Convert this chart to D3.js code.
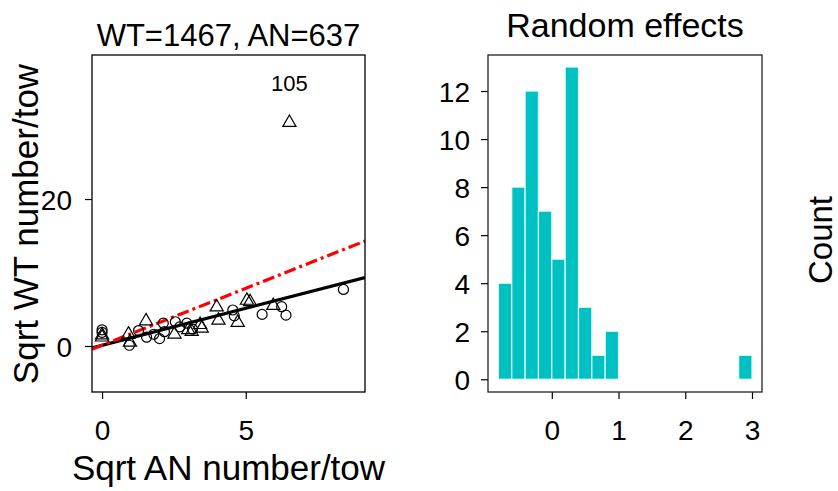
<!DOCTYPE html>
<html>
<head>
<meta charset="utf-8">
<script src="https://cdn.jsdelivr.net/npm/d3@7"></script>
<style>
  body { margin: 0; background: #fff; }
  text { font-family: "Liberation Sans", Arial, sans-serif; fill: #000; }
</style>
</head>
<body>
<svg id="chart" width="838" height="491"></svg>
<script>
// scatter: sqrt AN (x) vs sqrt WT (y), two groups of symbols
var circleX = [0, 0, 0.95, 1.27, 1.55, 1.8, 2.0, 2.17, 2.13, 2.55, 2.7, 2.95, 3.15, 4.55, 4.6, 5.57, 6.25, 6.4, 8.4];
var circleY = [2.2, 1.85, 0.1, 2.1, 1.2, 1.6, 1.0, 1.95, 3.1, 3.3, 2.6, 3.1, 2.3, 4.9, 4.1, 4.3, 5.35, 4.2, 7.7];
var triX = [0, 0, 0.92, 0.97, 1.53, 2.52, 3.0, 3.12, 3.41, 3.47, 3.99, 4.05, 4.72, 5.04, 5.15, 5.96, 6.52];
var triY = [1.5, 1.2, 1.6, 0.5, 3.4, 1.6, 2.2, 1.95, 2.9, 2.4, 5.3, 3.5, 3.2, 6.2, 6.0, 5.5, 30.4];
var outlierLabel = "105";
// fitted lines: intercept, slope
var fitBlack = [0.08, 1.01];
var fitRed = [0.1, 1.55];
var scatterXTicks = [0, 5];
var scatterYTicks = [0, 20];

// histogram of random effects
var binStart = [-0.8, -0.6, -0.4, -0.2, 0, 0.2, 0.4, 0.6, 0.8, 1.0, 1.2, 1.4, 1.6, 1.8, 2.0, 2.2, 2.4, 2.6, 2.8];
var binCount = [4, 8, 12, 7, 5, 13, 3, 1, 2, 0, 0, 0, 0, 0, 0, 0, 0, 0, 1];
var binWidth = 0.2;
var histXTicks = [0, 1, 2, 3];
var histYTicks = [0, 2, 4, 6, 8, 10, 12];

var svg = d3.select("#chart");

function styleAxis(a) {
  a.select(".domain").remove();
  a.selectAll("line").attr("stroke", "#000").attr("stroke-width", 1.2);
  a.selectAll("text").style("font-size", "28px").style("font-family", "Liberation Sans, Arial, sans-serif");
}

// ---------- left panel ----------
var left = {x0: 92, x1: 365, y0: 55, y1: 392};
var x = d3.scaleLinear().domain([-0.35, 9.15]).range([left.x0, left.x1]);
var y = d3.scaleLinear().domain([-6.26, 39.6]).range([left.y1, left.y0]);

var g1 = svg.append("g");
g1.append("defs").append("clipPath").attr("id", "clip1")
  .append("rect").attr("x", left.x0).attr("y", left.y0)
  .attr("width", left.x1 - left.x0).attr("height", left.y1 - left.y0);

var xAxis1 = g1.append("g")
  .attr("transform", "translate(0," + left.y1 + ")")
  .call(d3.axisBottom(x).tickValues(scatterXTicks).tickFormat(d3.format("d")).tickSize(7).tickPadding(21));
var yAxis1 = g1.append("g")
  .attr("transform", "translate(" + left.x0 + ",0)")
  .call(d3.axisLeft(y).tickValues(scatterYTicks).tickFormat(d3.format("d")).tickSize(7).tickPadding(13));
styleAxis(xAxis1);
styleAxis(yAxis1);
yAxis1.selectAll("text").attr("dy", "0.36em");

var plot1 = g1.append("g").attr("clip-path", "url(#clip1)");

[[fitBlack, "#000", null], [fitRed, "#ff0000", "12,4,3,4"]].forEach(function(f) {
  var d = x.domain();
  plot1.append("line")
    .attr("x1", x(d[0])).attr("y1", y(f[0][0] + f[0][1] * d[0]))
    .attr("x2", x(d[1])).attr("y2", y(f[0][0] + f[0][1] * d[1]))
    .attr("stroke", f[1]).attr("stroke-width", 3.2)
    .attr("stroke-dasharray", f[2]);
});

plot1.selectAll(".pt-c")
  .data(d3.range(circleX.length))
  .enter().append("circle")
  .attr("cx", function(i) { return x(circleX[i]); })
  .attr("cy", function(i) { return y(circleY[i]); })
  .attr("r", 5)
  .attr("fill", "none").attr("stroke", "#000").attr("stroke-width", 1.2);

var tri = d3.symbol().type(d3.symbolTriangle).size(75);
plot1.selectAll(".pt-t")
  .data(d3.range(triX.length))
  .enter().append("path")
  .attr("d", tri)
  .attr("transform", function(i) { return "translate(" + x(triX[i]) + "," + y(triY[i]) + ")"; })
  .attr("fill", "none").attr("stroke", "#000").attr("stroke-width", 1.2);

var last = triX.length - 1;
g1.append("text")
  .attr("x", x(triX[last])).attr("y", y(triY[last]) - 32)
  .attr("text-anchor", "middle").style("font-size", "22px")
  .text(outlierLabel);

g1.append("rect")
  .attr("x", left.x0).attr("y", left.y0)
  .attr("width", left.x1 - left.x0).attr("height", left.y1 - left.y0)
  .attr("fill", "none").attr("stroke", "#000").attr("stroke-width", 1.3);

g1.append("text")
  .attr("x", (left.x0 + left.x1) / 2).attr("y", 46)
  .attr("text-anchor", "middle").style("font-size", "31px")
  .text("WT=1467, AN=637");

g1.append("text")
  .attr("x", (left.x0 + left.x1) / 2).attr("y", 480)
  .attr("text-anchor", "middle").style("font-size", "35px")
  .text("Sqrt AN number/tow");

g1.append("text")
  .attr("transform", "translate(38,224) rotate(-90)")
  .attr("text-anchor", "middle").style("font-size", "35px")
  .text("Sqrt WT number/tow");

// ---------- right panel ----------
var right = {x0: 488, x1: 762, y0: 55, y1: 392};
var hx = d3.scaleLinear().domain([-0.956, 3.15]).range([right.x0, right.x1]);
var hy = d3.scaleLinear().domain([-0.53, 13.5]).range([right.y1, right.y0]);

var g2 = svg.append("g");

g2.selectAll(".bar")
  .data(d3.range(binStart.length))
  .enter().append("rect")
  .attr("class", "bar")
  .attr("x", function(i) { return hx(binStart[i]); })
  .attr("y", function(i) { return hy(binCount[i]); })
  .attr("width", function(i) { return hx(binStart[i] + binWidth) - hx(binStart[i]); })
  .attr("height", function(i) { return hy(0) - hy(binCount[i]); })
  .attr("fill", "#00c1c1")
  .attr("stroke", function(i) { return binCount[i] > 0 ? "#e6fafa" : "#d5eaea"; })
  .attr("stroke-width", 1.2);

var xAxis2 = g2.append("g")
  .attr("transform", "translate(0," + right.y1 + ")")
  .call(d3.axisBottom(hx).tickValues(histXTicks).tickFormat(d3.format("d")).tickSize(7).tickPadding(21));
var yAxis2 = g2.append("g")
  .attr("transform", "translate(" + right.x0 + ",0)")
  .call(d3.axisLeft(hy).tickValues(histYTicks).tickFormat(d3.format("d")).tickSize(7).tickPadding(11));
styleAxis(xAxis2);
styleAxis(yAxis2);
yAxis2.selectAll("text").attr("dy", "0.36em");

g2.append("rect")
  .attr("x", right.x0).attr("y", right.y0)
  .attr("width", right.x1 - right.x0).attr("height", right.y1 - right.y0)
  .attr("fill", "none").attr("stroke", "#222").attr("stroke-width", 1.3);

g2.append("text")
  .attr("x", (right.x0 + right.x1) / 2).attr("y", 37)
  .attr("text-anchor", "middle").style("font-size", "34px")
  .text("Random effects");

g2.append("text")
  .attr("transform", "translate(832,240) rotate(-90)")
  .attr("text-anchor", "middle").style("font-size", "33px")
  .text("Count");
</script>
</body>
</html>
